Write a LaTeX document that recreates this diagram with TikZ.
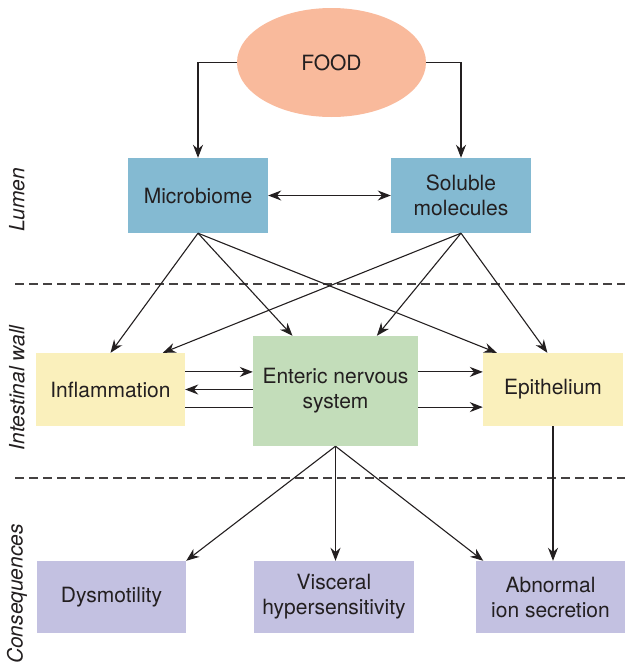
\documentclass[tikz,border=0pt]{standalone}
\usepackage{fontspec}
\setmainfont{TeX Gyre Heros}
\usetikzlibrary{shapes.geometric,arrows.meta,calc}
\definecolor{foodcol}{HTML}{F9BA9C}
\definecolor{lumcol}{HTML}{84BAD2}
\definecolor{wallcol}{HTML}{FAF0BC}
\definecolor{enscol}{HTML}{C3DDBA}
\definecolor{concol}{HTML}{C3C1E1}
\definecolor{txtcol}{HTML}{231F20}
\tikzset{
  box/.style={rectangle, inner sep=0pt, align=center, text=txtcol,
    font=\fontsize{21}{25}\selectfont},
  side/.style={rotate=90, text=txtcol, font=\fontsize{21}{25}\selectfont\itshape},
  arr/.style={-{Stealth[length=13pt,width=10pt]}, line width=1.1pt, draw=txtcol},
  sep/.style={dash pattern=on 9pt off 5pt, line width=1.1pt, draw=txtcol!85},
}
\begin{document}
\begin{tikzpicture}[x=1pt, y=-1pt]
\useasboundingbox (0,0) rectangle (635,667);
%Boxes
\node[box, ellipse, fill=foodcol, minimum width=189pt, minimum height=109pt] (food) at (331.5,62.5) {FOOD};
\node[box, fill=lumcol, minimum width=140pt, minimum height=75pt] (micro) at (198,195.5) {Microbiome};
\node[box, fill=lumcol, minimum width=140pt, minimum height=75pt] (sol) at (461,195.5) {Soluble\\molecules};
\node[box, fill=wallcol, minimum width=149pt, minimum height=73pt] (infl) at (110.5,389.5) {Inflammation};
\node[box, fill=enscol, minimum width=165pt, minimum height=110pt] (ens) at (335.5,391) {Enteric nervous\\system};
\node[box, fill=wallcol, minimum width=140pt, minimum height=73pt] (epith) at (553,389.5) {Epithelium};
\node[box, fill=concol, minimum width=149pt, minimum height=72pt] (dysm) at (111.5,597) {Dysmotility};
\node[box, fill=concol, minimum width=160pt, minimum height=72pt] (visc) at (334,597) {Visceral\\hypersensitivity};
\node[box, fill=concol, minimum width=149pt, minimum height=72pt] (abn) at (550.5,597) {Abnormal\\ion secretion};
%Text
\node[side] (lumen) at (17,200) {Lumen};
\node[side] (wall) at (17,388) {Intestinal wall};
\node[side] (conseq) at (17,594) {Consequences};
%Dashed separators
\coordinate (d1l) at (15,284);
\coordinate (d1r) at (625,284);
\coordinate (d2l) at (15,478);
\coordinate (d2r) at (625,478);
\draw[sep] (d1l) -- (d1r);
\draw[sep] (d2l) -- (d2r);
%Ports
\coordinate (inflA) at ($(infl.north east)!0.26!(infl.south east)$);
\coordinate (inflC) at ($(infl.north east)!0.74!(infl.south east)$);
\coordinate (epithA) at ($(epith.north west)!0.26!(epith.south west)$);
\coordinate (epithC) at ($(epith.north west)!0.74!(epith.south west)$);
%Arrows
\draw[arr] (food.west) -| (micro.north);
\draw[arr] (food.east) -| (sol.north);
\draw[arr, {Stealth[length=13pt,width=10pt]}-{Stealth[length=13pt,width=10pt]}] (micro) -- (sol);
\draw[arr] (micro.south) -- (infl.north);
\draw[arr] (micro.south) -- ($(ens.north west)!0.24!(ens.north east)$);
\draw[arr] (micro.south) -- ($(epith.north west)!0.1!(epith.north east)$);
\draw[arr] (sol.south) -- ($(infl.north)!0.7!(infl.north east)$);
\draw[arr] (sol.south) -- ($(ens.north west)!0.75!(ens.north east)$);
\draw[arr] (sol.south) -- ($(epith.north west)!0.46!(epith.north east)$);
\draw[arr] (inflA) -- (inflA -| ens.west);
\draw[arr] (ens.west |- infl.east) -- (infl.east);
\draw[line width=1.1pt, draw=txtcol] (inflC) -- (inflC -| ens.west);
\draw[arr] (epithA -| ens.east) -- (epithA);
\draw[arr] (epithC -| ens.east) -- (epithC);
\draw[arr] (ens.south) -- (dysm.north east);
\draw[arr] (ens.south) -- (ens.south |- visc.north);
\draw[arr] (ens.south) -- ($(abn.north west)!0.05!(abn.north east)$);
\draw[arr] (epith.south) -- (epith.south |- abn.north);
\end{tikzpicture}
\end{document}
